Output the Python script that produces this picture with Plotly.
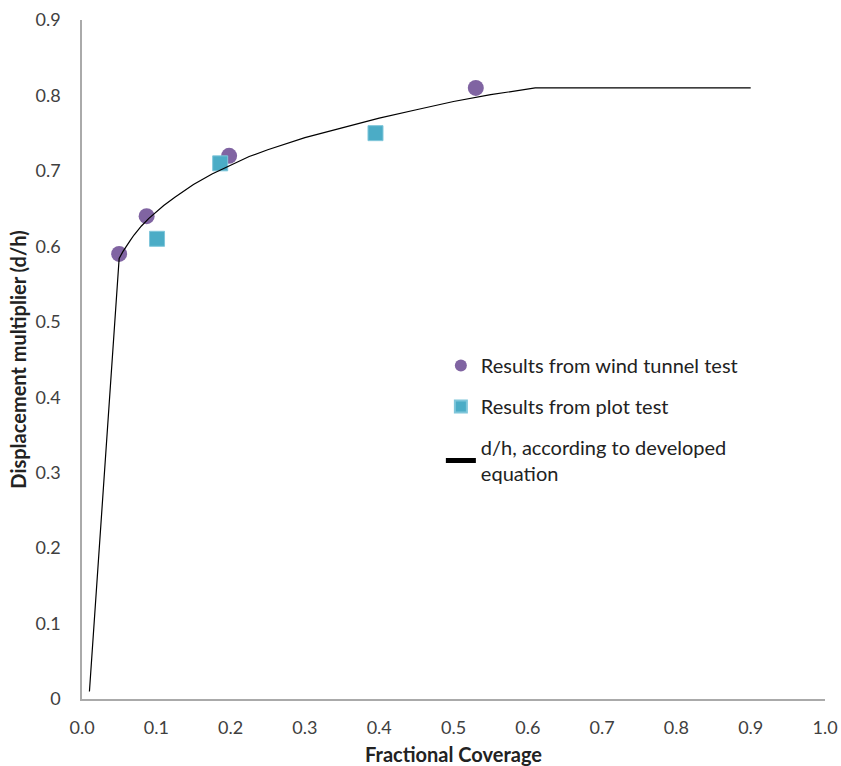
import plotly.graph_objects as go

# Data
wind_x = [0.05, 0.087, 0.198, 0.530]
wind_y = [0.59, 0.64, 0.72, 0.81]
plot_x = [0.101, 0.186, 0.395]
plot_y = [0.61, 0.71, 0.75]
eq_x = [0.01, 0.05, 0.055, 0.06, 0.065, 0.07, 0.075, 0.08, 0.09, 0.10, 0.11, 0.125, 0.15,
        0.175, 0.20, 0.225, 0.25, 0.30, 0.35, 0.40, 0.45, 0.50, 0.55, 0.61, 0.70, 0.80, 0.90]
eq_y = [0.01, 0.584, 0.593, 0.601, 0.608, 0.615, 0.621, 0.627, 0.637, 0.646, 0.654, 0.665,
        0.682, 0.696, 0.708, 0.719, 0.728, 0.744, 0.757, 0.770, 0.781, 0.792, 0.801, 0.810,
        0.810, 0.810, 0.810]
x_ticks = [0.0, 0.1, 0.2, 0.3, 0.4, 0.5, 0.6, 0.7, 0.8, 0.9, 1.0]
x_ticktext = ["0.0", "0.1", "0.2", "0.3", "0.4", "0.5", "0.6", "0.7", "0.8", "0.9", "1.0"]
y_ticks = [0, 0.1, 0.2, 0.3, 0.4, 0.5, 0.6, 0.7, 0.8, 0.9]
y_ticktext = ["0", "0.1", "0.2", "0.3", "0.4", "0.5", "0.6", "0.7", "0.8", "0.9"]

FONT = "Lato, Open Sans, sans-serif"

fig = go.Figure()
fig.add_trace(go.Scatter(x=wind_x, y=wind_y, mode="markers",
                         name="Results from wind tunnel test", legendgroup="a",
                         marker=dict(symbol="circle", size=16, color="#8064A2")))
fig.add_trace(go.Scatter(x=plot_x, y=plot_y, mode="markers",
                         name="Results from plot test", legendgroup="b",
                         marker=dict(symbol="square", size=15, color="#4BACC6",
                                     line=dict(color="#7fc6da", width=1))))
fig.add_trace(go.Scatter(x=eq_x, y=eq_y, mode="lines", legendgroup="c",
                         name="d/h, according to developed<br>equation",
                         line=dict(color="black", width=1.2)))

fig.update_layout(
    width=841, height=766,
    margin=dict(l=82, r=16, t=20, b=67),
    paper_bgcolor="white", plot_bgcolor="white",
    font=dict(family=FONT, size=18, color="#404040"),
    legend=dict(x=0.483, y=0.52, xanchor="left", yanchor="top",
                font=dict(family=FONT, size=20, color="#222222"),
                bgcolor="rgba(0,0,0,0)", itemwidth=30, tracegroupgap=12,
                itemsizing="constant"),
    xaxis=dict(range=[0, 1.0], tickvals=x_ticks, ticktext=x_ticktext,
               showgrid=False, zeroline=False, showline=True, linecolor="#aaaaaa",
               linewidth=1.5, ticks="", ticklabelstandoff=12, automargin=False,
               title=dict(text="<b>Fractional Coverage</b>", standoff=22,
                          font=dict(family=FONT, size=20, color="#222222"))),
    yaxis=dict(range=[0, 0.9], tickvals=y_ticks, ticktext=y_ticktext,
               showgrid=False, zeroline=False, showline=True, linecolor="#aaaaaa",
               linewidth=1.5, ticks="", ticklabelstandoff=16, automargin=False,
               title=dict(text="<b>Displacement multiplier (d/h)</b>", standoff=4,
                          font=dict(family=FONT, size=20, color="#222222"))),
)

fig.write_html("out.html")
